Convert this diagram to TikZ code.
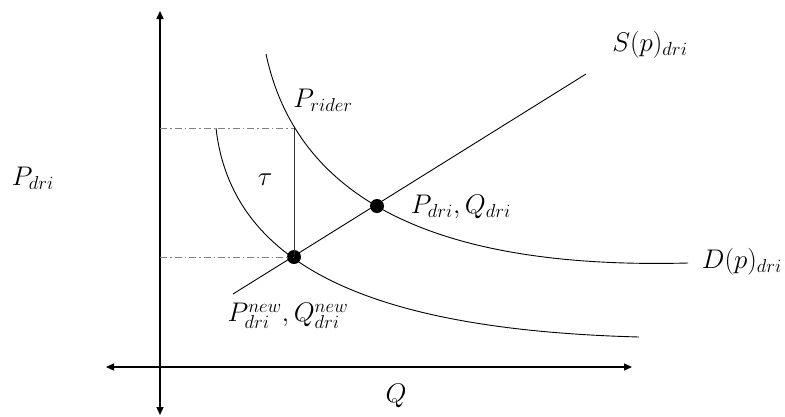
\documentclass[tikz,border=0pt]{standalone}
\usetikzlibrary{arrows.meta}
\begin{document}
\begin{tikzpicture}[x=1pt,y=-1pt,
  axis/.style={line width=1.3pt,-{Triangle[length=8pt,width=7pt]}},
  curve/.style={line width=0.9pt},
  guide/.style={gray,line width=0.8pt,dash pattern=on 7pt off 3pt on 1.5pt off 3pt},
  dot/.style={circle,fill=black,inner sep=0pt,minimum size=14pt},
  lbl/.style={font=\huge,scale=1.3,inner sep=0pt}]
\useasboundingbox (0,0) rectangle (785,416);
% axes
\coordinate (O) at (160,367);
\coordinate (ytop) at (160,11);
\coordinate (ybot) at (160,415);
\coordinate (xleft) at (106,367);
\coordinate (xright) at (632,367);
\draw[axis] (O) -- (ytop);
\draw[axis] (O) -- (ybot);
\draw[axis] (O) -- (xleft);
\draw[axis] (O) -- (xright);
% points
\coordinate (Prider) at (294,128);
\node[dot] (E0) at (377,206) {};
\node[dot] (E1) at (294,257) {};
\coordinate (yr) at (160,128);
\coordinate (yn) at (160,257);
% guides
\draw[guide] (yr) -- (Prider);
\draw[guide] (yn) -- (E1.center);
\draw[line width=0.8pt,black!80] (Prider) -- (E1.center);
% supply
\coordinate (s0) at (233,294);
\coordinate (s1) at (586,74);
\draw[curve] (s0) -- (s1);
% demand
\coordinate (d0) at (266,54);
\coordinate (d3) at (688,263);
\draw[curve] (d0) .. controls (295,190) and (420,270) .. (d3);
% new demand
\coordinate (n0) at (216,128);
\coordinate (n3) at (639,337);
\draw[curve] (n0) .. controls (232,270) and (380,330) .. (n3);
% labels
\node[lbl] (lPr) at (323,100) {$P_{rider}$};
\node[lbl] (ltau) at (265,180) {$\tau$};
\node[lbl] (lE0) at (461,207) {$P_{dri}, Q_{dri}$};
\node[lbl] (lE1) at (288,316) {$P_{dri}^{new}, Q_{dri}^{new}$};
\node[lbl] (lS) at (650,45) {$S(p)_{dri}$};
\node[lbl] (lD) at (742,262) {$D(p)_{dri}$};
\node[lbl] (lP) at (33,178) {$P_{dri}$};
\node[lbl] (lQ) at (396,396) {$Q$};
\end{tikzpicture}
\end{document}
